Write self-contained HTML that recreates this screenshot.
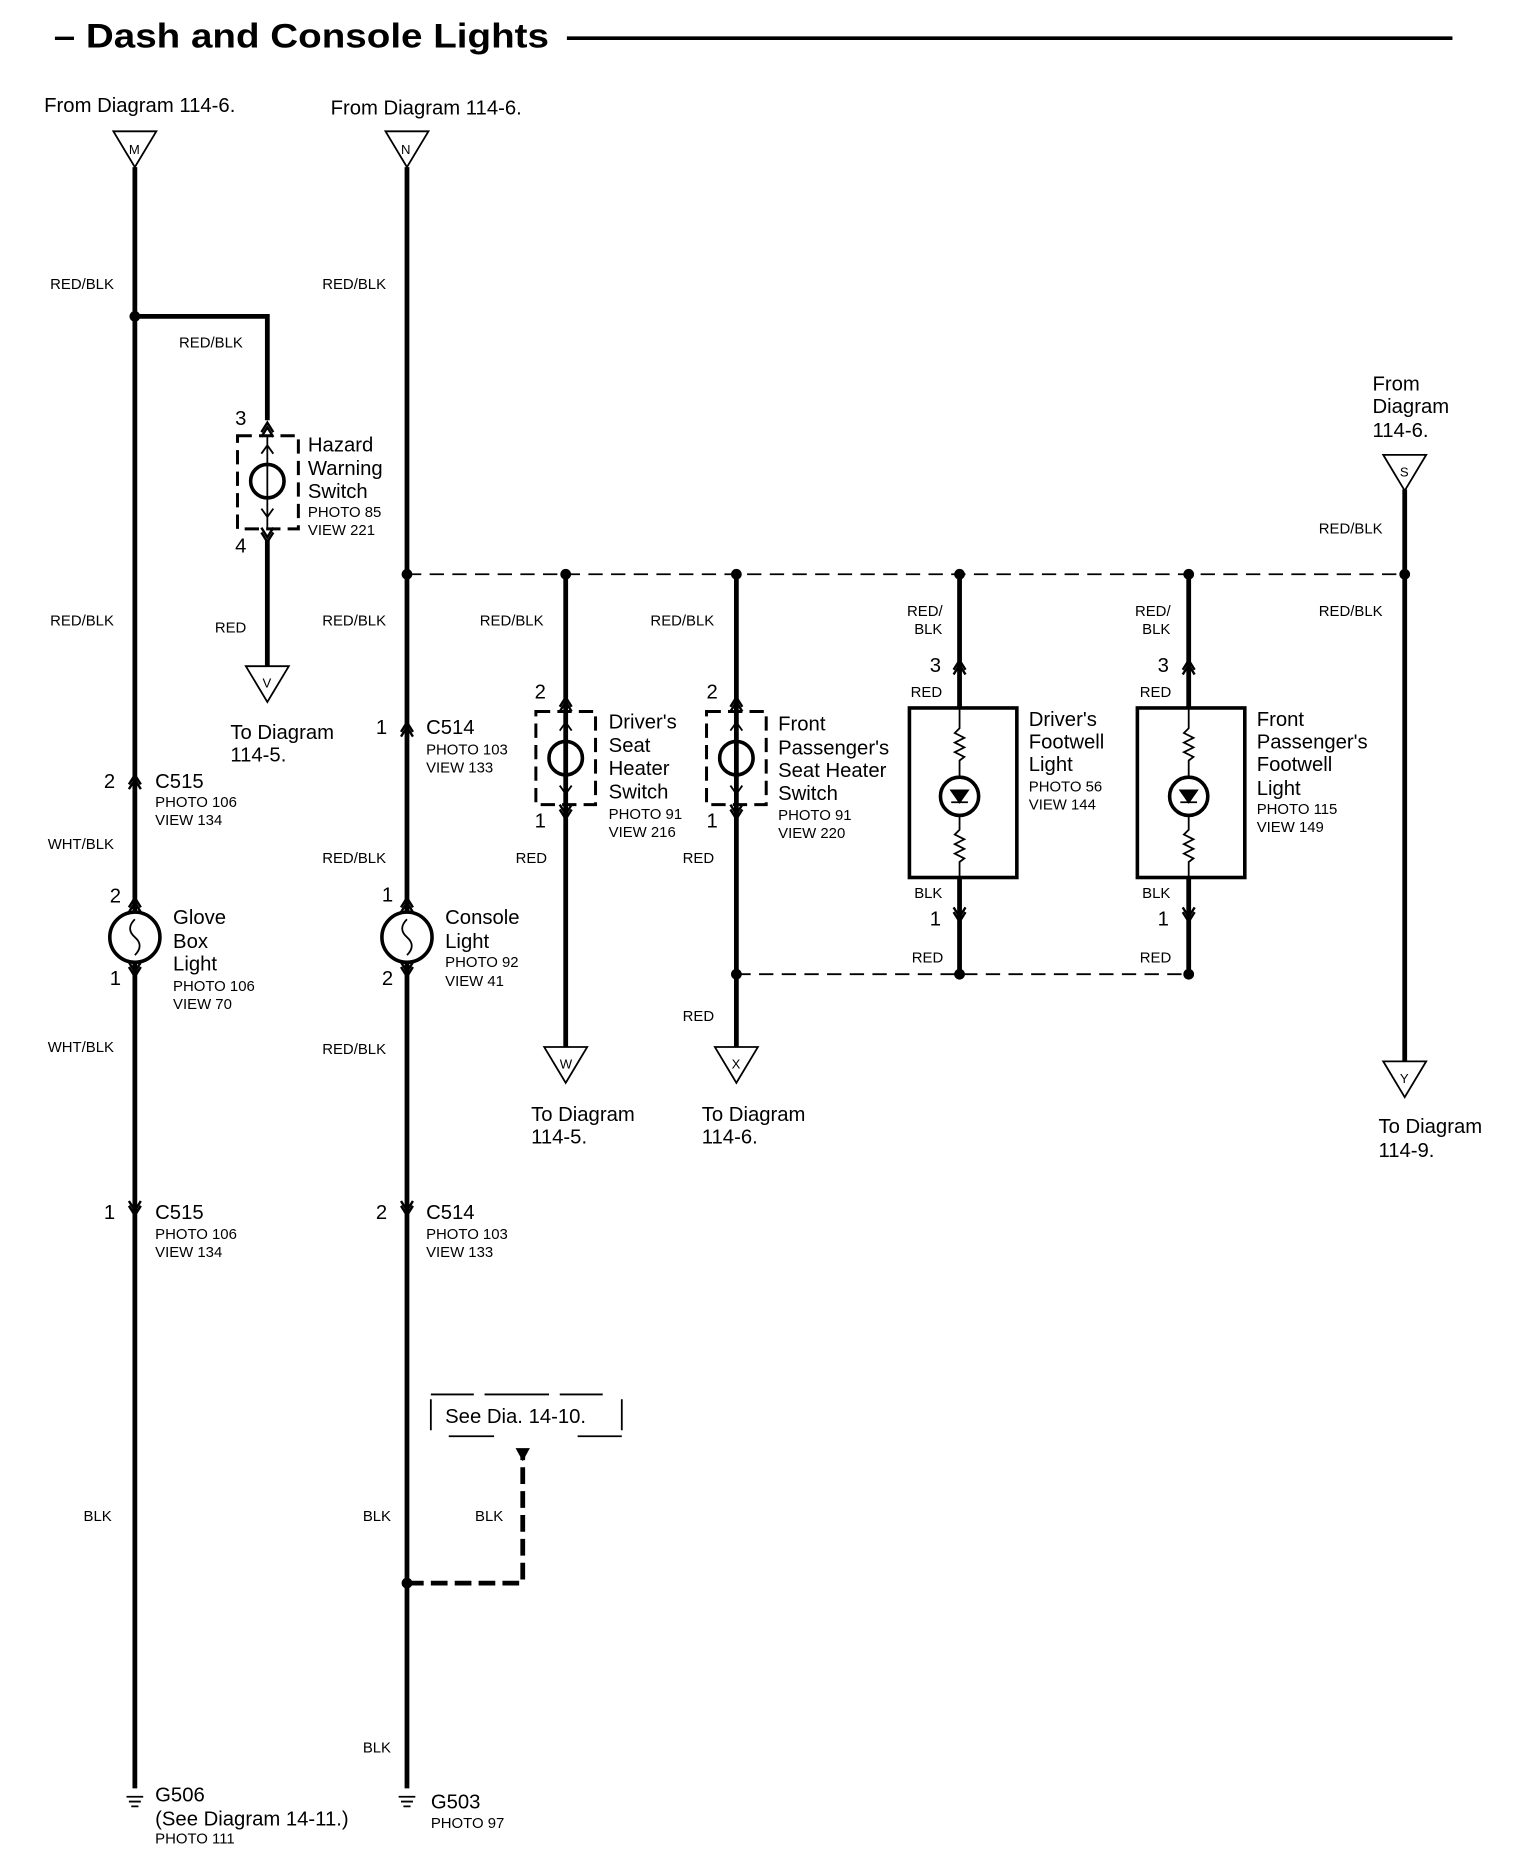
<!DOCTYPE html>
<html><head><style>html,body{margin:0;padding:0;background:#fff}svg{display:block}text{font-family:"Liberation Sans",sans-serif;fill:#000}.b{font-size:18px}.s{font-size:12.5px}.t{font-size:17px}</style></head>
<body>
<svg width="1536" height="1872" viewBox="0 0 1287 1568" preserveAspectRatio="none" xmlns="http://www.w3.org/2000/svg">
<defs>
<g id="up"><path d="M-5,6 L0,-2 L5,6 M-5,10 L0,2 L5,10" fill="none" stroke="#000" stroke-width="2"/></g>
<g id="dn"><path d="M-5,-6 L0,2 L5,-6 M-5,-10 L0,-2 L5,-10" fill="none" stroke="#000" stroke-width="2"/></g>
<g id="tri"><path d="M-18,0 L18,0 L0,30 Z" fill="#fff" stroke="#000" stroke-width="1.5"/></g>
<g id="gnd"><path d="M-7,0 H7 M-5,4 H5 M-3,8 H3" stroke="#000" stroke-width="1.5"/></g>
</defs>
<text x="45" y="40" font-size="29" font-weight="bold" textLength="415" lengthAdjust="spacingAndGlyphs">– Dash and Console Lights</text>
<line x1="475" y1="32" x2="1217" y2="32" stroke="#000" stroke-width="3"/>

<g stroke="#000" stroke-width="4" fill="none">
<line x1="113" y1="140" x2="113" y2="1498"/>
<path d="M113,265 H224 V352"/>
<line x1="224" y1="452" x2="224" y2="558"/>
<line x1="341" y1="140" x2="341" y2="1498"/>
<line x1="474" y1="481" x2="474" y2="878"/>
<line x1="617" y1="481" x2="617" y2="878"/>
<line x1="804" y1="481" x2="804" y2="593"/>
<line x1="804" y1="735" x2="804" y2="816"/>
<line x1="996" y1="481" x2="996" y2="593"/>
<line x1="996" y1="735" x2="996" y2="816"/>
<line x1="1177" y1="410" x2="1177" y2="890"/>
</g>
<g stroke="#000" stroke-width="1.5" stroke-dasharray="12,7" fill="none">
<line x1="341" y1="481" x2="1177" y2="481"/>
<line x1="617" y1="816" x2="996" y2="816"/>
</g>
<g stroke="#000" stroke-width="4" stroke-dasharray="14,6" fill="none">
<path d="M341,1326 H438 V1220"/>
</g>
<path d="M432,1213 L444,1213 L438,1224 Z" fill="#000"/>
<g fill="#000">
<circle cx="113" cy="265" r="4.5"/><circle cx="341" cy="481" r="4.5"/><circle cx="474" cy="481" r="4.5"/><circle cx="617" cy="481" r="4.5"/><circle cx="804" cy="481" r="4.5"/><circle cx="996" cy="481" r="4.5"/><circle cx="1177" cy="481" r="4.5"/><circle cx="617" cy="816" r="4.5"/><circle cx="804" cy="816" r="4.5"/><circle cx="996" cy="816" r="4.5"/><circle cx="341" cy="1326" r="4.5"/>
</g>
<use href="#tri" x="113" y="110"/><text x="108" y="129" font-size="11">M</text>
<use href="#tri" x="341" y="110"/><text x="336" y="129" font-size="11">N</text>
<use href="#tri" x="1177" y="381"/><text x="1173" y="399" font-size="11">S</text>
<use href="#tri" x="224" y="558"/><text x="220" y="576" font-size="11">V</text>
<use href="#tri" x="474" y="877"/><text x="469" y="895" font-size="11">W</text>
<use href="#tri" x="617" y="877"/><text x="613" y="895" font-size="11">X</text>
<use href="#tri" x="1177" y="889"/><text x="1173" y="907" font-size="11">Y</text>

<use href="#up" x="224" y="356"/><use href="#dn" x="224" y="452"/>
<use href="#up" x="341" y="607"/><use href="#up" x="113" y="651"/>
<use href="#up" x="113" y="754"/><use href="#dn" x="113" y="816"/>
<use href="#up" x="341" y="754"/><use href="#dn" x="341" y="816"/>
<use href="#dn" x="113" y="1016"/><use href="#dn" x="341" y="1016"/>
<use href="#up" x="474" y="586"/><use href="#dn" x="474" y="684"/>
<use href="#up" x="617" y="586"/><use href="#dn" x="617" y="684"/>
<use href="#up" x="804" y="555"/><use href="#dn" x="804" y="770"/>
<use href="#up" x="996" y="555"/><use href="#dn" x="996" y="770"/>

<g fill="none" stroke="#000">
<rect x="199" y="365" width="51" height="78" stroke-width="2.5" stroke-dasharray="12,6"/>
<circle cx="224" cy="403" r="14" stroke-width="3"/><line x1="224" y1="365" x2="224" y2="443" stroke-width="1.5"/>
<path d="M219,380 L224,373 L229,380 M219,426 L224,433 L229,426" stroke-width="1.5"/>
<rect x="449" y="596" width="50" height="78" stroke-width="2.5" stroke-dasharray="12,6"/>
<circle cx="474" cy="635" r="14" stroke-width="3"/><line x1="474" y1="596" x2="474" y2="674" stroke-width="1.5"/>
<path d="M469,612 L474,605 L479,612 M469,658 L474,665 L479,658" stroke-width="1.5"/>
<rect x="592" y="596" width="50" height="78" stroke-width="2.5" stroke-dasharray="12,6"/>
<circle cx="617" cy="635" r="14" stroke-width="3"/><line x1="617" y1="596" x2="617" y2="674" stroke-width="1.5"/>
<path d="M612,612 L617,605 L622,612 M612,658 L617,665 L622,658" stroke-width="1.5"/>
<circle cx="113" cy="785" r="21" stroke-width="3" fill="#fff"/><path d="M113,770 q-8,8 0,15 q8,7 0,15" stroke-width="1.5"/>
<circle cx="341" cy="785" r="21" stroke-width="3" fill="#fff"/><path d="M341,770 q-8,8 0,15 q8,7 0,15" stroke-width="1.5"/>
<rect x="762" y="593" width="90" height="142" stroke-width="3"/>
<rect x="953" y="593" width="90" height="142" stroke-width="3"/>
<path d="M804,593 V610 l-4,4 l8,4 l-8,4 l8,4 l-8,4 l8,4 l-4,3 V651 M804,683 V695 l-4,4 l8,4 l-8,4 l8,4 l-8,4 l8,4 l-4,3 V735" stroke-width="1.5"/>
<circle cx="804" cy="667" r="16" stroke-width="3"/>
<path d="M996,593 V610 l-4,4 l8,4 l-8,4 l8,4 l-8,4 l8,4 l-4,3 V651 M996,683 V695 l-4,4 l8,4 l-8,4 l8,4 l-8,4 l8,4 l-4,3 V735" stroke-width="1.5"/>
<circle cx="996" cy="667" r="16" stroke-width="3"/>
<path d="M361,1168 H397 M406,1168 H460 M469,1168 H505 M361,1172 V1198 M521,1172 V1198 M376,1203 H414 M484,1203 H521" stroke-width="1.5"/>
</g>
<path d="M797,662 H811 L804,672 Z M797,672 H811" fill="#000" stroke="#000" stroke-width="1.5"/>
<path d="M989,662 H1003 L996,672 Z M989,672 H1003" fill="#000" stroke="#000" stroke-width="1.5"/>
<use href="#gnd" x="113" y="1505"/><use href="#gnd" x="341" y="1505"/>

<g class="t">
<text x="37" y="94">From Diagram 114-6.</text>
<text x="277" y="96">From Diagram  114-6.</text>
<text x="1150" y="327">From</text><text x="1150" y="346">Diagram</text><text x="1150" y="366">114-6.</text>
<text x="258" y="378">Hazard</text><text x="258" y="398">Warning</text><text x="258" y="417">Switch</text>
<text x="197" y="356">3</text><text x="197" y="463">4</text>
<text x="193" y="619">To Diagram</text><text x="193" y="638">114-5.</text>
<text x="87" y="660">2</text><text x="130" y="660">C515</text>
<text x="315" y="615">1</text><text x="357" y="615">C514</text>
<text x="92" y="756">2</text><text x="92" y="825">1</text>
<text x="145" y="774">Glove</text><text x="145" y="794">Box</text><text x="145" y="813">Light</text>
<text x="320" y="755">1</text><text x="320" y="825">2</text>
<text x="373" y="774">Console</text><text x="373" y="794">Light</text>
<text x="87" y="1021">1</text><text x="130" y="1021">C515</text>
<text x="315" y="1021">2</text><text x="357" y="1021">C514</text>
<text x="373" y="1192">See Dia. 14-10.</text>
<text x="130" y="1509">G506</text><text x="130" y="1529">(See Diagram 14-11.)</text>
<text x="361" y="1515">G503</text>
<text x="448" y="585">2</text><text x="448" y="693">1</text>
<text x="510" y="610">Driver's</text><text x="510" y="630">Seat</text><text x="510" y="649">Heater</text><text x="510" y="669">Switch</text>
<text x="592" y="585">2</text><text x="592" y="693">1</text>
<text x="652" y="612">Front</text><text x="652" y="632">Passenger's</text><text x="652" y="651">Seat Heater</text><text x="652" y="670">Switch</text>
<text x="445" y="939">To Diagram</text><text x="445" y="958">114-5.</text>
<text x="588" y="939">To Diagram</text><text x="588" y="958">114-6.</text>
<text x="1155" y="949">To Diagram</text><text x="1155" y="969">114-9.</text>
<text x="779" y="563">3</text><text x="779" y="775">1</text>
<text x="970" y="563">3</text><text x="970" y="775">1</text>
<text x="862" y="608">Driver's</text><text x="862" y="627">Footwell</text><text x="862" y="646">Light</text>
<text x="1053" y="608">Front</text><text x="1053" y="627">Passenger's</text><text x="1053" y="646">Footwell</text><text x="1053" y="666">Light</text>
</g>
<g class="s">
<text x="258" y="433">PHOTO 85</text><text x="258" y="448">VIEW 221</text>
<text x="130" y="676">PHOTO 106</text><text x="130" y="691">VIEW 134</text>
<text x="357" y="632">PHOTO 103</text><text x="357" y="647">VIEW 133</text>
<text x="145" y="830">PHOTO 106</text><text x="145" y="845">VIEW 70</text>
<text x="373" y="810">PHOTO 92</text><text x="373" y="826">VIEW 41</text>
<text x="130" y="1038">PHOTO 106</text><text x="130" y="1053">VIEW 134</text>
<text x="357" y="1038">PHOTO 103</text><text x="357" y="1053">VIEW 133</text>
<text x="130" y="1544">PHOTO 111</text><text x="361" y="1531">PHOTO 97</text>
<text x="510" y="686">PHOTO 91</text><text x="510" y="701">VIEW 216</text>
<text x="652" y="687">PHOTO 91</text><text x="652" y="702">VIEW 220</text>
<text x="862" y="663">PHOTO 56</text><text x="862" y="678">VIEW 144</text>
<text x="1053" y="682">PHOTO 115</text><text x="1053" y="697">VIEW 149</text>
<text x="42" y="242">RED/BLK</text><text x="270" y="242">RED/BLK</text>
<text x="150" y="291">RED/BLK</text>
<text x="42" y="524">RED/BLK</text><text x="270" y="524">RED/BLK</text><text x="180" y="530">RED</text>
<text x="40" y="711">WHT/BLK</text><text x="270" y="723">RED/BLK</text>
<text x="40" y="881">WHT/BLK</text><text x="270" y="883">RED/BLK</text>
<text x="70" y="1274">BLK</text><text x="304" y="1274">BLK</text><text x="398" y="1274">BLK</text><text x="304" y="1468">BLK</text>
<text x="402" y="524">RED/BLK</text><text x="545" y="524">RED/BLK</text>
<text x="432" y="723">RED</text><text x="572" y="723">RED</text><text x="572" y="855">RED</text>
<text x="760" y="516">RED/</text><text x="766" y="531">BLK</text><text x="763" y="584">RED</text>
<text x="766" y="752">BLK</text><text x="764" y="806">RED</text>
<text x="951" y="516">RED/</text><text x="957" y="531">BLK</text><text x="955" y="584">RED</text>
<text x="957" y="752">BLK</text><text x="955" y="806">RED</text>
<text x="1105" y="447">RED/BLK</text><text x="1105" y="516">RED/BLK</text>
</g>
</svg>
</body></html>
